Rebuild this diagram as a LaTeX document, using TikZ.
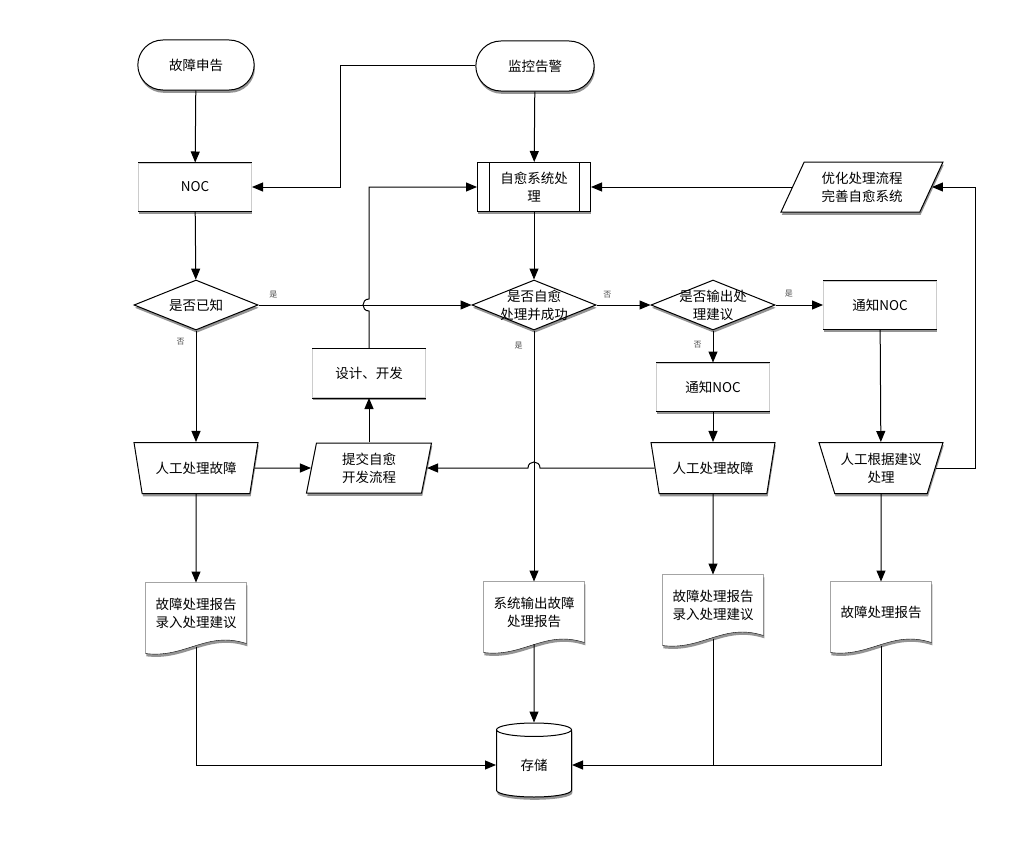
\documentclass[tikz,border=0pt]{standalone}
\usepackage{fontspec}
\setmainfont{Noto Sans CJK SC}
\usetikzlibrary{shapes.geometric,shapes.misc,shadows,arrows.meta,calc,backgrounds}

\begin{document}
\begin{tikzpicture}[x=1pt, y=-1pt, line width=1pt,
    every node/.style={align=center, font=\fontsize{13.5}{18}\selectfont},
    boxshadow/.style={drop shadow={shadow xshift=0.8pt, shadow yshift=-2.8pt,
      fill=black!60, opacity=0.7}},
    terminal/.style={rounded rectangle, draw, fill=white, minimum width=123pt,
      minimum height=50pt, boxshadow},
    procbox/.style={rectangle, draw=black!20, fill=white, minimum width=113pt,
      minimum height=48pt, boxshadow},
    predef/.style={rectangle, draw, fill=white, minimum width=113pt,
      minimum height=49pt, boxshadow},
    decision/.style={diamond, draw, fill=white, inner sep=0pt,
      minimum width=124pt, minimum height=50pt, boxshadow},
    manual/.style={trapezium, trapezium angle=67, trapezium stretches body,
      shape border rotate=180, draw, fill=white, inner xsep=0pt,
      minimum width=124pt, minimum height=51pt, boxshadow},
    iobox/.style={trapezium, trapezium left angle=75, trapezium right angle=105,
      trapezium stretches body, draw, fill=white, inner xsep=0pt,
      minimum width=125pt, minimum height=50pt, boxshadow},
    docnode/.style={rectangle, minimum width=100pt, minimum height=60pt, inner sep=0pt},
    storage/.style={cylinder, shape border rotate=90, aspect=0.4, draw, fill=white,
      minimum width=75pt, minimum height=74pt, boxshadow},
    flow/.style={-{Triangle[length=11pt, width=9pt]}},
    yesno/.style={font=\fontsize{8}{10}\selectfont, text=black!70, inner sep=1pt}]
  \useasboundingbox (0,0) rectangle (1012,843);

  % start points
  \node[terminal] (report) at (196,65) {故障申告};
  \node[terminal, minimum width=125pt] (alarm) at (535,66) {监控告警};

  % first row
  \node[procbox] (noc) at (195,187) {NOC};
  \node[predef] (selfheal) at (534,187) {自愈系统处\\理};
  \node[iobox, trapezium left angle=58, trapezium right angle=122,
    minimum width=162pt] (optim) at (862,187) {优化处理流程\\完善自愈系统};

  % decisions
  \node[decision, label={center:是否已知}] (known) at (196,305) {};
  \node[decision, label={center:是否自愈\\处理并成功}] (selfok) at (534,305) {};
  \node[decision, label={center:是否输出处\\理建议}] (decide) at (713,305) {};
  \node[procbox] (tellA) at (880,305) {通知NOC};
  \node[procbox] (tellB) at (713,387) {通知NOC};
  \node[procbox, minimum height=49pt] (design) at (369,373) {设计、开发};

  % manual work
  \node[manual] (manA) at (196,468) {人工处理故障};
  \node[iobox] (submit) at (369,468) {提交自愈\\开发流程};
  \node[manual] (manB) at (713,468) {人工处理故障};
  \node[manual] (manC) at (881,468) {人工根据建议\\处理};

  % reports and storage
  \node[docnode] (repA) at (196,613) {故障处理报告\\录入处理建议};
  \node[docnode] (repB) at (534,612) {系统输出故障\\处理报告};
  \node[docnode] (repC) at (713,605) {故障处理报告\\录入处理建议};
  \node[docnode] (repD) at (881,612) {故障处理报告};
  \node[storage] (store) at (534,765) {存储};

  \begin{scope}[on background layer]
    \foreach \d in {repA,repB,repC,repD}
      \draw[fill=white, boxshadow] (\d.north west) -- (\d.north east) -- (\d.south east)
        .. controls +(-40,-13) and +(40,5) .. ([yshift=-10pt]\d.south west) -- cycle;
  \end{scope}
  \foreach \b in {noc,tellA,tellB,design}
    \draw (\b.north west) -- (\b.north east) (\b.south west) -- (\b.south east);
  \draw ([xshift=12pt]selfheal.north west) -- ([xshift=12pt]selfheal.south west)
    ([xshift=-12pt]selfheal.north east) -- ([xshift=-12pt]selfheal.south east);

  % connectors
  \draw[flow] (report) -- (noc);
  \draw[flow] (alarm.west) -- ++(-135,0) |- (noc.east);
  \draw[flow] (alarm) -- (selfheal);
  \draw[flow] (noc) -- (known);
  \draw[flow] (selfheal) -- (selfok);
  \draw[flow] (known.east) -- node[yesno, pos=0.07, above=5pt] {是} (selfok.west);
  \draw[flow] (known) -- node[yesno, pos=0.1, left=10pt] {否} (manA);
  \draw[flow] (selfok.east) -- node[yesno, pos=0.2, above=5pt] {否} (decide.west);
  \draw[flow] (selfok) -- node[yesno, pos=0.06, left=10pt] {是} (repB);
  \draw[flow] (decide.east) -- node[yesno, pos=0.28, above=6pt] {是} (tellA.west);
  \draw[flow] (decide) -- node[yesno, pos=0.45, left=10pt] {否} (tellB);
  \draw[flow] (tellB) -- (manB);
  \draw[flow] (tellA) -- (manC);
  \draw[flow] (manA) -- (submit);
  \draw[flow] (submit) -- (design);
  \coordinate (hopA) at (design.north |- known.east);
  \draw[flow] (design.north) -- ([yshift=-6pt]hopA)
    .. controls ([xshift=-8pt,yshift=-6pt]hopA) and ([xshift=-8pt,yshift=6pt]hopA)
    .. ([yshift=6pt]hopA) |- (selfheal.west);
  \coordinate (hopB) at (selfok.south |- manB.west);
  \draw[flow] (manB.west) -- ([xshift=6pt]hopB)
    .. controls ([xshift=6pt,yshift=8pt]hopB) and ([xshift=-6pt,yshift=8pt]hopB)
    .. ([xshift=-6pt]hopB) -- (submit.east);
  \draw[flow] (manC.east) -- ++(40,0) |- (optim.east);
  \draw[flow] (optim) -- (selfheal);
  \draw[flow] (manA) -- (repA);
  \draw[flow] (manB) -- (repC);
  \draw[flow] (manC) -- (repD);
  \draw[flow] (repB) ++(0,32) -- (store);
  \draw[flow] (repA.south) ++(0,3) |- (store.west);
  \draw (repC.south) ++(0,3) -- (repC.south |- store.west);
  \draw[flow] (repD.south) ++(0,3) |- (store.east);
\end{tikzpicture}
\end{document}
